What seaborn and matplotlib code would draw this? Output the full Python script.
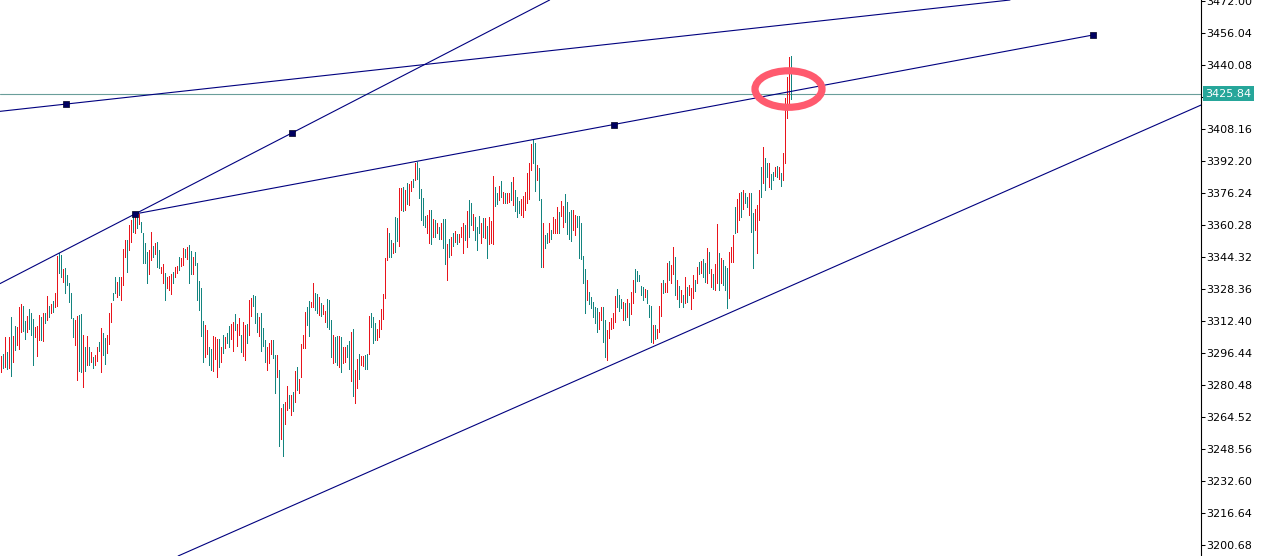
import matplotlib
matplotlib.use("Agg")
import matplotlib.pyplot as plt
from matplotlib.patches import Ellipse
from matplotlib.transforms import blended_transform_factory
import seaborn as sns
import numpy as np
import pandas as pd

# bar highs / lows (one bar per entry, left to right)
highs = [
    3294.8, 3295.8, 3304.3, 3296.8, 3304.3, 3314.3, 3304.8, 3309.8, 3309.3, 3319.3,
    3320.8, 3319.8, 3312.3, 3314.8, 3318.3, 3316.3, 3313.3, 3309.3, 3309.8, 3315.3,
    3314.3, 3316.3, 3316.3, 3324.8, 3319.8, 3320.8, 3322.3, 3326.3, 3344.8, 3346.3,
    3345.3, 3338.3, 3338.8, 3335.3, 3331.3, 3326.3, 3313.8, 3312.8, 3314.8, 3315.3,
    3315.8, 3305.3, 3299.3, 3304.8, 3299.3, 3296.8, 3294.3, 3295.3, 3299.3, 3301.8,
    3308.8, 3306.3, 3303.8, 3305.3, 3316.3, 3321.3, 3326.3, 3334.3, 3331.8, 3334.3,
    3334.3, 3348.3, 3352.8, 3352.8, 3360.3, 3362.8, 3366.3, 3366.3, 3366.3, 3365.8,
    3361.8, 3356.3, 3351.3, 3346.8, 3347.8, 3356.8, 3349.8, 3351.3, 3351.8, 3347.8,
    3339.3, 3340.8, 3336.3, 3334.3, 3334.8, 3335.8, 3336.8, 3339.3, 3339.8, 3344.3,
    3343.8, 3348.8, 3348.3, 3349.3, 3350.3, 3347.3, 3344.3, 3346.8, 3341.3, 3332.3,
    3328.8, 3312.3, 3310.3, 3307.8, 3299.3, 3298.3, 3304.8, 3304.3, 3303.3, 3303.3,
    3299.3, 3305.3, 3304.3, 3306.3, 3309.8, 3310.8, 3311.8, 3315.8, 3310.8, 3313.8,
    3305.3, 3311.8, 3310.3, 3310.8, 3322.8, 3323.8, 3325.3, 3324.8, 3316.3, 3314.3,
    3316.3, 3308.8, 3302.8, 3299.3, 3301.3, 3302.8, 3302.8, 3295.3, 3295.3, 3287.8,
    3268.8, 3270.8, 3271.8, 3279.8, 3275.3, 3275.3, 3276.8, 3287.3, 3289.3, 3283.3,
    3300.8, 3305.3, 3316.8, 3319.3, 3322.3, 3321.8, 3331.3, 3326.3, 3325.8, 3324.3,
    3321.3, 3320.3, 3317.3, 3323.3, 3322.8, 3312.8, 3305.3, 3304.3, 3304.8, 3304.8,
    3304.3, 3299.3, 3299.3, 3300.3, 3302.3, 3306.8, 3308.3, 3287.8, 3293.3, 3295.8,
    3294.8, 3294.8, 3295.3, 3295.8, 3314.8, 3316.3, 3314.3, 3311.3, 3308.3, 3312.8,
    3318.3, 3325.8, 3343.8, 3358.8, 3356.3, 3352.8, 3351.3, 3364.3, 3363.8, 3378.8,
    3378.8, 3379.3, 3377.8, 3381.3, 3380.8, 3382.3, 3383.3, 3391.3, 3391.8, 3388.8,
    3378.3, 3373.8, 3364.8, 3365.3, 3367.8, 3367.8, 3363.3, 3362.8, 3361.3, 3359.3,
    3361.3, 3363.3, 3363.3, 3350.8, 3353.3, 3354.3, 3356.3, 3357.3, 3355.8, 3355.8,
    3359.3, 3361.3, 3360.3, 3367.3, 3372.8, 3371.3, 3365.8, 3364.3, 3359.3, 3364.8,
    3361.3, 3363.8, 3363.8, 3359.8, 3364.3, 3362.3, 3384.8, 3379.3, 3376.3, 3379.8,
    3382.3, 3376.8, 3376.3, 3376.3, 3376.3, 3381.8, 3384.3, 3377.8, 3374.3, 3372.3,
    3373.3, 3374.8, 3376.8, 3386.3, 3391.3, 3400.8, 3402.8, 3401.3, 3390.3, 3388.8,
    3373.3, 3361.3, 3355.3, 3356.3, 3361.3, 3357.8, 3364.3, 3363.3, 3369.3, 3366.8,
    3372.3, 3369.8, 3375.8, 3371.8, 3366.8, 3367.8, 3367.8, 3365.3, 3364.8, 3364.8,
    3361.3, 3344.8, 3338.3, 3332.8, 3326.8, 3324.3, 3321.8, 3319.3, 3318.8, 3316.8,
    3319.3, 3319.3, 3312.8, 3307.8, 3311.8, 3313.8, 3316.3, 3324.8, 3328.3, 3325.3,
    3323.3, 3321.8, 3321.3, 3323.3, 3321.3, 3326.8, 3332.8, 3338.3, 3337.3, 3335.3,
    3329.8, 3329.3, 3328.3, 3327.8, 3320.3, 3319.8, 3310.3, 3310.3, 3308.3, 3319.8,
    3331.3, 3332.8, 3331.3, 3341.3, 3342.3, 3340.3, 3349.3, 3344.3, 3332.8, 3329.8,
    3327.8, 3325.3, 3334.3, 3329.3, 3330.3, 3328.8, 3335.3, 3332.8, 3339.3, 3341.8,
    3342.3, 3343.3, 3341.3, 3348.8, 3346.8, 3338.3, 3335.8, 3340.8, 3360.8, 3346.3,
    3343.8, 3342.8, 3339.8, 3338.8, 3346.8, 3349.3, 3355.3, 3369.3, 3373.3, 3376.3,
    3376.8, 3377.8, 3376.3, 3374.3, 3376.3, 3376.3, 3366.3, 3368.3, 3370.3, 3377.8,
    3389.3, 3399.3, 3393.8, 3391.3, 3391.3, 3385.8, 3386.8, 3389.3, 3389.8, 3389.3,
    3386.3, 3396.3, 3423.8, 3434.3, 3444.3, 3444.8,
]
lows = [
    3286.8, 3288.8, 3289.3, 3288.3, 3288.8, 3284.8, 3291.8, 3297.8, 3300.3, 3298.3,
    3306.8, 3307.3, 3303.3, 3306.8, 3308.3, 3305.3, 3290.3, 3304.3, 3294.8, 3302.8,
    3302.8, 3302.3, 3311.3, 3312.8, 3314.3, 3316.3, 3316.8, 3319.3, 3319.8, 3336.3,
    3334.3, 3331.8, 3326.3, 3330.3, 3321.8, 3313.8, 3304.3, 3300.3, 3282.8, 3287.3,
    3286.8, 3279.3, 3287.3, 3290.3, 3290.3, 3291.8, 3288.8, 3290.3, 3292.3, 3297.3,
    3286.8, 3295.3, 3290.8, 3296.3, 3300.8, 3311.8, 3322.8, 3326.3, 3324.3, 3325.3,
    3322.8, 3330.3, 3344.3, 3336.8, 3347.8, 3351.8, 3356.8, 3356.3, 3358.8, 3360.8,
    3356.8, 3341.3, 3341.3, 3331.3, 3335.8, 3342.8, 3344.3, 3345.8, 3339.3, 3338.8,
    3336.3, 3331.3, 3322.8, 3328.8, 3327.8, 3325.8, 3331.3, 3334.3, 3336.3, 3337.8,
    3339.8, 3340.3, 3344.3, 3343.3, 3331.3, 3335.8, 3335.8, 3340.3, 3322.8, 3317.8,
    3304.8, 3291.8, 3294.3, 3295.8, 3290.3, 3287.8, 3287.3, 3293.3, 3284.3, 3289.3,
    3291.8, 3296.3, 3298.8, 3301.3, 3299.3, 3303.3, 3297.3, 3307.8, 3299.8, 3305.3,
    3296.8, 3294.8, 3292.8, 3301.3, 3305.3, 3314.8, 3319.8, 3311.3, 3306.8, 3304.8,
    3297.3, 3299.8, 3291.8, 3287.8, 3291.3, 3295.8, 3293.8, 3276.3, 3284.3, 3250.3,
    3253.8, 3245.3, 3260.8, 3267.8, 3268.8, 3265.3, 3267.3, 3271.8, 3277.8, 3276.3,
    3284.3, 3298.8, 3298.8, 3310.3, 3304.8, 3319.3, 3319.3, 3317.8, 3316.3, 3315.3,
    3314.8, 3315.8, 3311.8, 3309.3, 3308.3, 3294.3, 3291.3, 3291.8, 3290.3, 3289.3,
    3286.8, 3291.3, 3291.8, 3294.3, 3288.3, 3282.3, 3274.8, 3271.3, 3278.8, 3283.3,
    3290.3, 3289.8, 3288.3, 3288.3, 3295.8, 3309.3, 3301.3, 3302.8, 3302.8, 3304.3,
    3308.3, 3313.3, 3323.8, 3342.8, 3344.3, 3344.3, 3346.3, 3346.8, 3352.3, 3349.8,
    3367.8, 3367.3, 3367.8, 3370.8, 3370.3, 3377.3, 3379.3, 3382.8, 3383.3, 3373.8,
    3362.8, 3360.3, 3359.3, 3356.3, 3351.3, 3350.8, 3354.3, 3354.3, 3356.3, 3353.3,
    3353.3, 3348.8, 3340.8, 3332.8, 3344.3, 3345.3, 3349.8, 3351.8, 3350.8, 3351.8,
    3354.3, 3346.3, 3352.8, 3349.3, 3354.3, 3360.3, 3357.8, 3352.8, 3347.8, 3356.3,
    3351.3, 3354.3, 3353.8, 3343.8, 3350.8, 3351.3, 3350.8, 3369.8, 3370.8, 3372.8,
    3374.3, 3371.3, 3371.3, 3371.3, 3371.8, 3372.8, 3370.3, 3367.3, 3364.3, 3366.3,
    3365.3, 3364.3, 3367.8, 3371.3, 3373.3, 3387.8, 3391.3, 3377.3, 3382.8, 3372.8,
    3339.3, 3339.3, 3348.8, 3351.3, 3351.8, 3353.3, 3356.3, 3356.3, 3356.3, 3356.3,
    3364.8, 3359.3, 3361.8, 3355.8, 3353.3, 3352.3, 3357.8, 3355.3, 3359.3, 3343.8,
    3343.3, 3331.3, 3316.3, 3322.8, 3320.8, 3318.8, 3314.3, 3311.3, 3306.8, 3308.3,
    3312.8, 3301.8, 3294.3, 3292.8, 3303.8, 3308.3, 3308.8, 3311.8, 3319.3, 3317.3,
    3318.8, 3312.8, 3312.8, 3314.3, 3310.3, 3315.8, 3321.3, 3326.8, 3332.3, 3332.3,
    3325.3, 3322.8, 3324.3, 3321.3, 3314.3, 3301.8, 3301.3, 3303.3, 3303.8, 3306.8,
    3314.8, 3326.3, 3326.8, 3326.8, 3332.8, 3331.3, 3335.8, 3325.3, 3323.3, 3319.3,
    3321.8, 3319.3, 3321.3, 3321.8, 3325.3, 3318.3, 3323.8, 3327.3, 3331.3, 3335.8,
    3336.3, 3334.3, 3331.8, 3331.3, 3336.3, 3329.3, 3328.3, 3327.8, 3331.3, 3327.8,
    3331.3, 3330.3, 3327.8, 3318.8, 3323.8, 3341.8, 3341.8, 3356.3, 3356.8, 3362.8,
    3364.3, 3368.3, 3371.3, 3369.3, 3365.3, 3356.8, 3338.8, 3357.8, 3346.3, 3362.8,
    3374.3, 3381.3, 3377.8, 3384.3, 3379.3, 3378.3, 3382.8, 3384.8, 3384.3, 3383.3,
    3379.8, 3382.8, 3391.3, 3413.8, 3420.3, 3423.3,
]
# r = bull bar (red), t = bear bar (teal)
bar_dir = list(
    "rtrtrtrtrr" "rttrtttrrr" "trtrtrtrrt" "trtttttrrt" "trtrtrtrrt"
    "rttrrrttrt" "rrrtrrtrtr" "ttttrrtrtt" "rrtrrrtrrt" "rrtrttrttt"
    "ttrrttrrrt" "rtrttrrtrr" "trrtrrtttr" "tttrrrttrt" "rtrrtrtrtr"
    "rrrttrrttr" "trrtttrttr" "trrttrtrrt" "rrttrtttrr" "rrrrttrttr"
    "rtrtrrtrtt" "tttrrtrtrt" "rttrtrtrtr" "rrtrttrttt" "rtrtrrrttr"
    "trtrrtrttt" "rrrrrrttrt" "trttrtrrrt" "rrttttrrtt" "tttrtttttr"
    "rttrrrrrtt" "trtrtrrttt" "ttrtttrtrr" "rtrrtrrtrt" "rtrtrrrtrt"
    "rttrtrtrrt" "rtttrrrtrr" "trttrttrrr" "trttrttrtr" "trrrrt"
)

tick_labels = ["3472.00", "3456.04", "3440.08", "3424.12", "3408.16", "3392.20",
               "3376.24", "3360.28", "3344.32", "3328.36", "3312.40", "3296.44",
               "3280.48", "3264.52", "3248.56", "3232.60", "3216.64", "3200.68"]
bid_price = 3425.84

# trendlines: (bar index, price) anchors
ray_top = [(32.5, 3420.6), (504.5, 3472.5)]
ray_steep = [(67.0, 3365.8), (145.5, 3406.2)]
seg_mid_x = [67.0, 546.0]
seg_mid_y = [3365.8, 3455.05]
ray_bottom = [(88.5, 3195.2), (600.0, 3420.1)]
anchor_x = [32.5, 67.0, 145.5, 306.5, 546.0]
anchor_y = [3420.6, 3365.8, 3406.2, 3410.4, 3455.05]

sns.set_style("white")
plt.rcParams["font.family"] = ["DejaVu Sans"]

fig = plt.figure(figsize=(12.7, 5.56), dpi=100)
ax = fig.add_axes([0, 0, 1201 / 1270, 1])

bars = pd.DataFrame({"bar": np.arange(len(highs)), "high": highs,
                     "low": lows, "dir": bar_dir})
colors = bars["dir"].map({"r": "#e8141c", "t": "#13847f"}).tolist()
ax.vlines(bars["bar"], bars["low"], bars["high"], colors=colors,
          lw=0.5, antialiased=False, zorder=2)

navy = "#00007f"
ax.axline(*ray_top, color=navy, lw=0.8, zorder=3)
ax.axline(*ray_steep, color=navy, lw=0.8, zorder=3)
ax.axline(*ray_bottom, color=navy, lw=0.8, zorder=3)
sns.lineplot(x=seg_mid_x, y=seg_mid_y, ax=ax, color=navy, lw=0.8,
             sort=False, estimator=None, zorder=3)
sns.scatterplot(x=anchor_x, y=anchor_y, ax=ax, marker="s", s=14,
                color="#000060", edgecolor="#000020", linewidth=0.5, zorder=4)

ax.axhline(bid_price, color="#6a9e9a", lw=0.8, zorder=1)

ax.add_patch(Ellipse((393.75, 3428.1), width=33.5, height=18.2, fill=False,
                     ec="#ff5a6e", lw=5.2, zorder=6))

ax.set_xlim(-0.5, 600)
ax.set_ylim(3195.22, 3472.5)
ax.set_xticks([])
ax.yaxis.tick_right()
ax.set_yticks([float(t) for t in tick_labels])
ax.set_yticklabels(tick_labels)
ax.tick_params(axis="y", which="major", direction="out", length=3, width=0.75,
               pad=0.8, labelsize=8, colors="black", right=True, left=False)
for side in ["left", "top", "bottom"]:
    ax.spines[side].set_visible(False)
ax.spines["right"].set_color("black")
ax.spines["right"].set_linewidth(0.8)

trans = blended_transform_factory(ax.transAxes, ax.transData)
ax.text(1.0 + 4.5 / 1201, bid_price, "%.2f" % bid_price, transform=trans,
        ha="left", va="center", fontsize=8, color="white", zorder=10,
        bbox=dict(boxstyle="square,pad=0.2", fc="#26a69a", ec="none"),
        clip_on=False)

fig.savefig("out.png", dpi=100)
